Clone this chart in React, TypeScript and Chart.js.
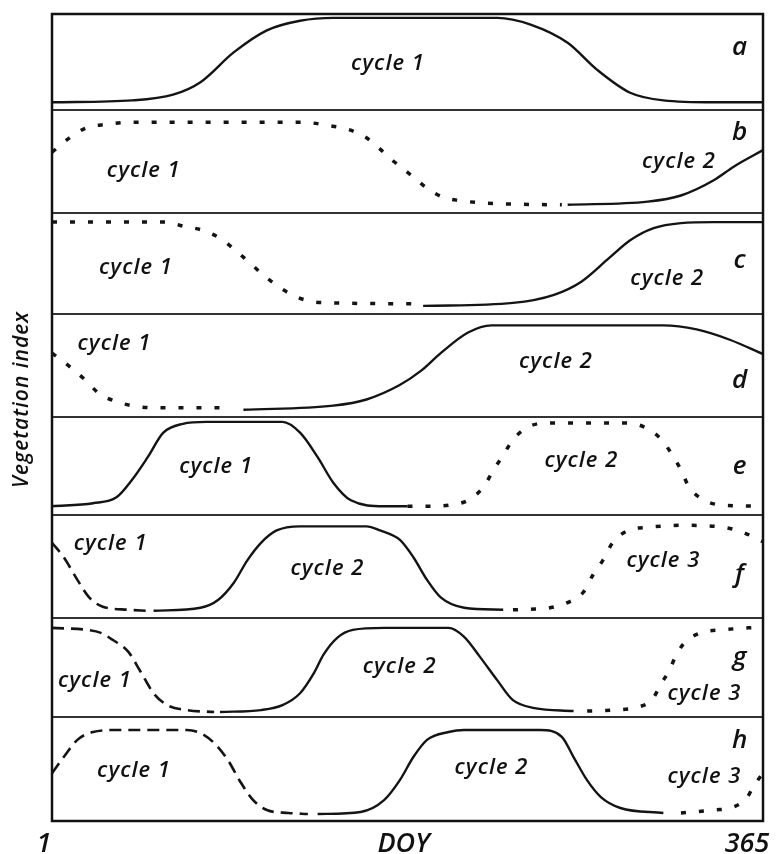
import React, { useEffect, useRef } from "react";
import { Chart, registerables } from "chart.js";

Chart.register(...registerables);

type Pt = [number, number];

// ---- data (DOY, vegetation index within its panel, 0..1) ----
const panelIds = ["a", "b", "c", "d", "e", "f", "g", "h"];
const panelWeights = [96, 103, 101, 103, 98, 103, 99, 104];

const a1: Pt[] = [[1, 0.08], [42, 0.1], [63, 0.16], [77, 0.29], [94, 0.6], [111, 0.83], [128, 0.93], [145, 0.96], [229, 0.96], [246, 0.89], [265, 0.7], [280, 0.42], [297, 0.18], [314, 0.1], [340, 0.08], [365, 0.08]];

const b1: Pt[] = [[1, 0.59], [10, 0.73], [19, 0.83], [29, 0.86], [40, 0.88], [130, 0.88], [142, 0.85], [153, 0.81], [162, 0.73], [169, 0.62], [176, 0.5], [186, 0.35], [193, 0.24], [201, 0.155], [210, 0.12], [220, 0.1], [240, 0.085], [262, 0.08]];
const b2: Pt[] = [[265, 0.08], [306, 0.11], [323, 0.17], [340, 0.32], [350, 0.45], [365, 0.61]];

const c1: Pt[] = [[1, 0.91], [60, 0.91], [68, 0.87], [78, 0.83], [87, 0.75], [95, 0.63], [102, 0.51], [109, 0.39], [117, 0.27], [126, 0.17], [135, 0.12], [145, 0.11], [188, 0.1]];
const c2: Pt[] = [[191, 0.08], [237, 0.11], [258, 0.19], [272, 0.32], [286, 0.55], [297, 0.73], [309, 0.85], [323, 0.9], [340, 0.91], [365, 0.91]];

const d1: Pt[] = [[1, 0.62], [10, 0.49], [18, 0.36], [25, 0.23], [33, 0.155], [42, 0.11], [53, 0.09], [91, 0.09]];
const d2: Pt[] = [[99, 0.07], [145, 0.11], [162, 0.17], [179, 0.31], [190, 0.45], [200, 0.62], [214, 0.82], [226, 0.89], [314, 0.89], [331, 0.85], [348, 0.75], [365, 0.61]];

const e1: Pt[] = [[1, 0.09], [22, 0.12], [34, 0.18], [42, 0.36], [50, 0.59], [58, 0.84], [68, 0.93], [80, 0.95], [119, 0.95], [128, 0.84], [137, 0.59], [145, 0.33], [154, 0.15], [171, 0.09], [183, 0.09]];
const e2: Pt[] = [[183, 0.09], [195, 0.09], [204, 0.1], [214, 0.15], [222, 0.29], [227, 0.46], [232, 0.61], [237, 0.77], [245, 0.9], [255, 0.94], [292, 0.94], [304, 0.9], [313, 0.77], [318, 0.63], [323, 0.46], [327, 0.29], [335, 0.15], [345, 0.1], [365, 0.09]];

const f1: Pt[] = [[1, 0.73], [7, 0.59], [14, 0.37], [20, 0.2], [27, 0.11], [40, 0.08], [50, 0.07]];
const f2: Pt[] = [[53, 0.07], [77, 0.1], [86, 0.175], [94, 0.34], [101, 0.56], [108, 0.73], [116, 0.85], [128, 0.89], [162, 0.89], [169, 0.85], [179, 0.76], [186, 0.59], [193, 0.37], [200, 0.2], [212, 0.1], [232, 0.08]];
const f3: Pt[] = [[237, 0.08], [246, 0.085], [256, 0.1], [265, 0.15], [273, 0.25], [278, 0.42], [283, 0.56], [288, 0.73], [296, 0.85], [306, 0.88], [323, 0.9], [345, 0.88], [355, 0.83], [365, 0.74]];

const g1: Pt[] = [[1, 0.9], [19, 0.88], [26, 0.85], [32, 0.78], [40, 0.66], [46, 0.47], [53, 0.24], [60, 0.12], [70, 0.07], [84, 0.05]];
const g2: Pt[] = [[87, 0.05], [108, 0.07], [119, 0.12], [128, 0.24], [135, 0.44], [140, 0.63], [147, 0.8], [155, 0.88], [171, 0.9], [204, 0.9], [212, 0.81], [220, 0.61], [229, 0.37], [237, 0.17], [248, 0.09], [268, 0.06]];
const g3: Pt[] = [[275, 0.06], [289, 0.07], [301, 0.1], [308, 0.17], [313, 0.34], [317, 0.47], [320, 0.6], [324, 0.73], [333, 0.85], [344, 0.88], [365, 0.91]];

const h1: Pt[] = [[1, 0.46], [7, 0.615], [14, 0.78], [22, 0.856], [34, 0.875], [70, 0.875], [77, 0.846], [84, 0.75], [91, 0.587], [97, 0.39], [104, 0.2], [111, 0.106], [122, 0.077], [132, 0.067]];
const h2: Pt[] = [[137, 0.067], [159, 0.087], [171, 0.2], [179, 0.39], [186, 0.615], [193, 0.78], [204, 0.856], [212, 0.875], [251, 0.875], [262, 0.81], [268, 0.615], [275, 0.39], [282, 0.23], [292, 0.125], [314, 0.077]];
const h3: Pt[] = [[323, 0.077], [340, 0.106], [350, 0.135], [357, 0.23], [360, 0.33], [365, 0.46]];

type Style = "solid" | "dotted" | "dashed";
const curves: { panel: string; pts: Pt[]; style: Style }[] = [
  { panel: "a", pts: a1, style: "solid" },
  { panel: "b", pts: b1, style: "dotted" },
  { panel: "b", pts: b2, style: "solid" },
  { panel: "c", pts: c1, style: "dotted" },
  { panel: "c", pts: c2, style: "solid" },
  { panel: "d", pts: d1, style: "dotted" },
  { panel: "d", pts: d2, style: "solid" },
  { panel: "e", pts: e1, style: "solid" },
  { panel: "e", pts: e2, style: "dotted" },
  { panel: "f", pts: f1, style: "dashed" },
  { panel: "f", pts: f2, style: "solid" },
  { panel: "f", pts: f3, style: "dotted" },
  { panel: "g", pts: g1, style: "dashed" },
  { panel: "g", pts: g2, style: "solid" },
  { panel: "g", pts: g3, style: "dotted" },
  { panel: "h", pts: h1, style: "dashed" },
  { panel: "h", pts: h2, style: "solid" },
  { panel: "h", pts: h3, style: "dotted" },
];

// cycle annotations: panel, text, DOY (centre), value (baseline)
const cycleLabels: { panel: string; text: string; doy: number; vi: number }[] = [
  { panel: "a", text: "cycle 1", doy: 173, vi: 0.417 },
  { panel: "b", text: "cycle 1", doy: 48, vi: 0.35 },
  { panel: "b", text: "cycle 2", doy: 322, vi: 0.437 },
  { panel: "c", text: "cycle 1", doy: 44, vi: 0.396 },
  { panel: "c", text: "cycle 2", doy: 316, vi: 0.287 },
  { panel: "d", text: "cycle 1", doy: 33, vi: 0.65 },
  { panel: "d", text: "cycle 2", doy: 259, vi: 0.476 },
  { panel: "e", text: "cycle 1", doy: 85, vi: 0.429 },
  { panel: "e", text: "cycle 2", doy: 272, vi: 0.49 },
  { panel: "f", text: "cycle 1", doy: 31, vi: 0.66 },
  { panel: "f", text: "cycle 2", doy: 142, vi: 0.417 },
  { panel: "f", text: "cycle 3", doy: 314, vi: 0.495 },
  { panel: "g", text: "cycle 1", doy: 23, vi: 0.303 },
  { panel: "g", text: "cycle 2", doy: 179, vi: 0.444 },
  { panel: "g", text: "cycle 3", doy: 335, vi: 0.172 },
  { panel: "h", text: "cycle 1", doy: 43, vi: 0.423 },
  { panel: "h", text: "cycle 2", doy: 226, vi: 0.452 },
  { panel: "h", text: "cycle 3", doy: 335, vi: 0.365 },
];

const panelLetterBaseline = [0.573, 0.709, 0.455, 0.282, 0.418, 0.35, 0.525, 0.7];
const letterDoy = 353;

const xTickLabels = ["1", "365"];
const xTitle = "DOY";
const yTitle = "Vegetation index";

const FONT = '"Open Sans", "DejaVu Sans", sans-serif';

const decorPlugin = {
  id: "decor",
  afterDatasetsDraw(chart: any) {
    const ctx: any = chart.ctx;
    const { left, right, top, bottom } = chart.chartArea;
    const xs = chart.scales.x;
    ctx.save();
    // panel separators
    ctx.strokeStyle = "#333";
    ctx.lineWidth = 2;
    panelIds.slice(0, -1).forEach((id) => {
      const s = chart.scales["y" + id];
      ctx.beginPath();
      ctx.moveTo(left, s.bottom);
      ctx.lineTo(right, s.bottom);
      ctx.stroke();
    });
    // frame
    ctx.strokeStyle = "#111";
    ctx.lineWidth = 2.5;
    ctx.strokeRect(left, top, right - left, bottom - top);

    ctx.fillStyle = "#111";
    // cycle labels
    ctx.font = `italic 600 22px ${FONT}`;
    ctx.letterSpacing = "1px";
    ctx.textAlign = "center";
    ctx.textBaseline = "alphabetic";
    cycleLabels.forEach((l) => {
      const ys = chart.scales["y" + l.panel];
      ctx.fillText(l.text, xs.getPixelForValue(l.doy), ys.getPixelForValue(l.vi));
    });
    ctx.letterSpacing = "0px";
    // panel letters
    ctx.font = `italic 600 26px ${FONT}`;
    panelIds.forEach((id, i) => {
      const ys = chart.scales["y" + id];
      ctx.fillText(id, xs.getPixelForValue(letterDoy), ys.getPixelForValue(panelLetterBaseline[i]));
    });
    // x labels
    ctx.font = `italic 600 27px ${FONT}`;
    const by = bottom + 31;
    ctx.fillText(xTickLabels[0], xs.getPixelForValue(1) - 8, by);
    ctx.fillText(xTickLabels[1], xs.getPixelForValue(365) - 16, by);
    ctx.fillText(xTitle, (left + right) / 2 - 4, by);
    // y title
    ctx.font = `italic 600 21px ${FONT}`;
    ctx.letterSpacing = "1px";
    ctx.translate(22, (top + bottom) / 2 - 18);
    ctx.rotate(-Math.PI / 2);
    ctx.textBaseline = "middle";
    ctx.fillText(yTitle, 0, 0);
    ctx.restore();
  },
};

export default function App() {
  const ref = useRef<HTMLCanvasElement | null>(null);
  useEffect(() => {
    if (!ref.current) return;
    const scales: any = {
      x: { type: "linear", min: 1, max: 365, display: false },
    };
    panelIds.forEach((id, i) => {
      scales["y" + id] = {
        type: "linear",
        position: "right",
        stack: "panels",
        stackWeight: panelWeights[i],
        min: 0,
        max: 1,
        display: true,
        ticks: { display: false },
        grid: { display: false, drawTicks: false },
        border: { display: false },
      };
    });
    const datasets = curves.map((c) => ({
      data: c.pts.map(([x, y]) => ({ x, y })),
      xAxisID: "x",
      yAxisID: "y" + c.panel,
      borderColor: "#141414",
      borderWidth: c.style === "solid" ? 2.4 : c.style === "dotted" ? 3.5 : 2.6,
      borderDash: c.style === "dotted" ? [5, 13] : c.style === "dashed" ? [12, 7] : [],
      pointRadius: 0,
      fill: false,
      cubicInterpolationMode: "monotone" as const,
    }));
    const chart = new Chart(ref.current, {
      type: "line",
      data: { datasets },
      options: {
        animation: false,
        responsive: true,
        maintainAspectRatio: false,
        layout: { padding: { left: 52, top: 14, right: 13, bottom: 33 } },
        scales,
        plugins: { legend: { display: false }, tooltip: { enabled: false } },
      },
      plugins: [decorPlugin],
    });
    return () => chart.destroy();
  }, []);
  return (
    <div style={{ position: "absolute", left: 0, top: 0, width: 776, height: 854, background: "#fff" }}>
      <canvas ref={ref} />
    </div>
  );
}
